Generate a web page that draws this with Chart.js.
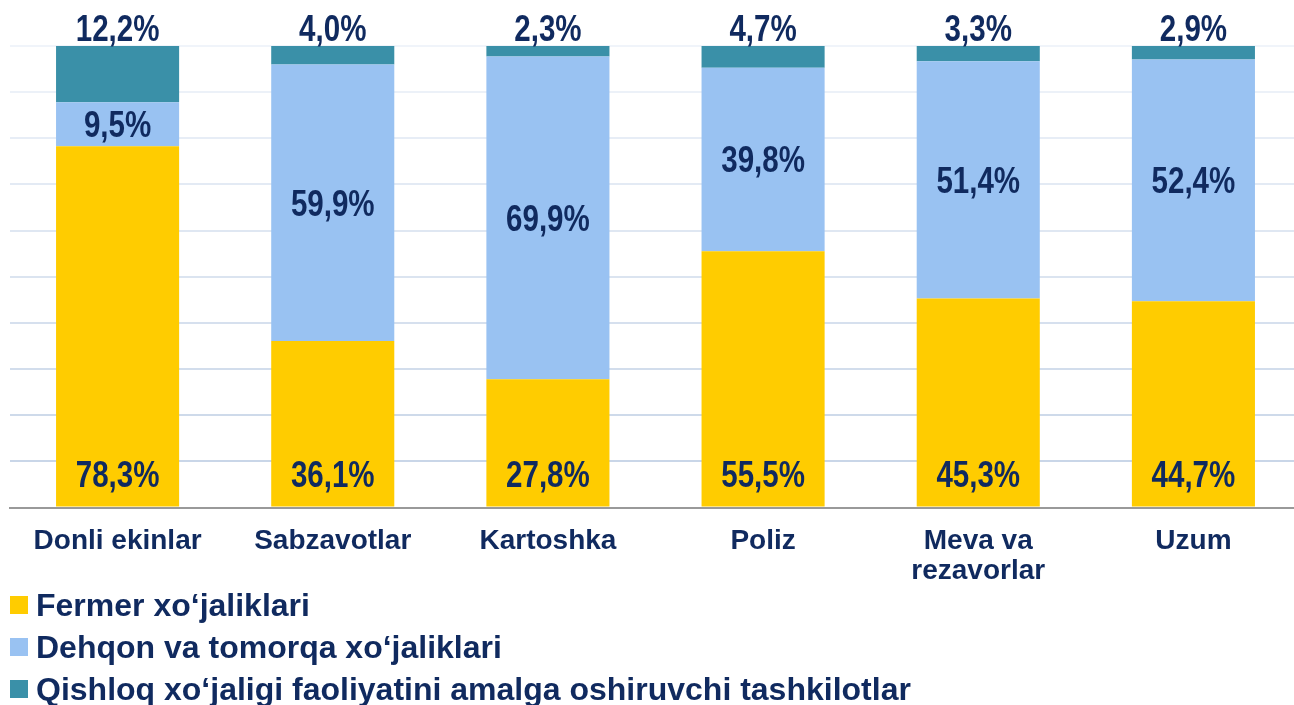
<!DOCTYPE html>
<html>
<head>
<meta charset="utf-8">
<script src="https://cdn.jsdelivr.net/npm/chart.js@4.4.1/dist/chart.umd.min.js"></script>
<style>
  html, body { margin: 0; padding: 0; background: #fff; overflow: hidden; }
  #wrap { position: relative; width: 1294px; height: 705px; overflow: hidden; }
  #grafico { position: absolute; left: 0; top: 0; }
  #leyenda { position: absolute; left: 10px; top: 584px; font: bold 32px "Liberation Sans", Arial, sans-serif; color: #102a5f; }
  #leyenda div { height: 42px; line-height: 42px; white-space: nowrap; }
  #leyenda span { display: inline-block; width: 18px; height: 18px; margin-right: 8px; vertical-align: middle; position: relative; top: -3px; }
</style>
</head>
<body>
<div id="wrap">
  <canvas id="grafico"></canvas>
  <div id="leyenda"></div>
</div>
<script>
// categorias y valores (%)
const categorias = ['Donli ekinlar', 'Sabzavotlar', 'Kartoshka', 'Poliz', ['Meva va', 'rezavorlar'], 'Uzum']
const fermer = [78.3, 36.1, 27.8, 55.5, 45.3, 44.7]
const dehqon = [9.5, 59.9, 69.9, 39.8, 51.4, 52.4]
const qishloq = [12.2, 4.0, 2.3, 4.7, 3.3, 2.9]
const ticksY = [0, 10, 20, 30, 40, 50, 60, 70, 80, 90, 100]

const azul = '#102a5f'
const fuente = '"Liberation Sans", Arial, sans-serif'

// etiquetas de valores sobre las barras (letra estrecha simulada)
const etiquetasPlugin = {
  id: 'etiquetas',
  afterDatasetsDraw(chart) {
    const ctx = chart.ctx
    chart.data.datasets.forEach((ds, i) => {
      const meta = chart.getDatasetMeta(i)
      meta.data.forEach((bar, j) => {
        const txt = ds.data[j].toFixed(1).replace('.', ',') + '%'
        let y
        if (i === 0) y = bar.base - 19.5
        else if (i === 1) y = (bar.y + bar.base) / 2 + 12.9
        else y = bar.y - 5
        ctx.save()
        ctx.fillStyle = azul
        ctx.textAlign = 'center'
        ctx.textBaseline = 'alphabetic'
        ctx.font = 'bold 36px ' + fuente
        ctx.translate(bar.x, y)
        ctx.scale(0.82, 1)
        ctx.fillText(txt, 0, 0)
        ctx.restore()
      })
    })
  }
}

const canvas = document.getElementById('grafico')
canvas.width = 1301
canvas.height = 705
canvas.style.width = '1301px'
canvas.style.height = '705px'

const chart = new Chart(canvas, {
  type: 'bar',
  data: {
    labels: categorias,
    datasets: [
      { label: 'Fermer xo‘jaliklari', data: fermer, backgroundColor: '#ffcc00' },
      { label: 'Dehqon va tomorqa xo‘jaliklari', data: dehqon, backgroundColor: '#99c2f2' },
      { label: 'Qishloq xo‘jaligi faoliyatini amalga oshiruvchi tashkilotlar', data: qishloq, backgroundColor: '#3a90a8' }
    ]
  },
  options: {
    responsive: false,
    animation: false,
    layout: { padding: { left: 10, right: 0, top: 46, bottom: 0 } },
    datasets: { bar: { barPercentage: 0.572, categoryPercentage: 1 } },
    plugins: { legend: { display: false }, tooltip: { enabled: false } },
    scales: {
      x: {
        stacked: true,
        grid: { display: false, drawTicks: false },
        border: { display: true, color: '#999999', width: 2 },
        ticks: { color: azul, padding: 18, maxRotation: 0, autoSkip: false, font: { family: fuente, size: 28, weight: 'bold', lineHeight: 1.1 } },
        afterFit: (s) => { s.height = 705 - 507.5 }
      },
      y: {
        stacked: true,
        min: 0,
        max: 100,
        afterBuildTicks: (s) => { s.ticks = ticksY.map(v => ({ value: v })) },
        ticks: { display: false },
        border: { display: false },
        grid: {
          drawTicks: false,
          lineWidth: 2,
          color: (c) => {
            const t = (c.tick ? c.tick.value : 0) / 100
            const a = [197, 211, 230], b = [240, 244, 250]
            const m = a.map((v, k) => Math.round(v + (b[k] - v) * t))
            return 'rgb(' + m.join(',') + ')'
          }
        },
        afterFit: (s) => { s.width = 0 }
      }
    }
  },
  plugins: [etiquetasPlugin]
})

// leyenda
const leyenda = document.getElementById('leyenda')
chart.data.datasets.forEach((ds) => {
  const fila = document.createElement('div')
  const cuadro = document.createElement('span')
  cuadro.style.background = ds.backgroundColor
  fila.appendChild(cuadro)
  fila.appendChild(document.createTextNode(ds.label))
  leyenda.appendChild(fila)
})
</script>
</body>
</html>
